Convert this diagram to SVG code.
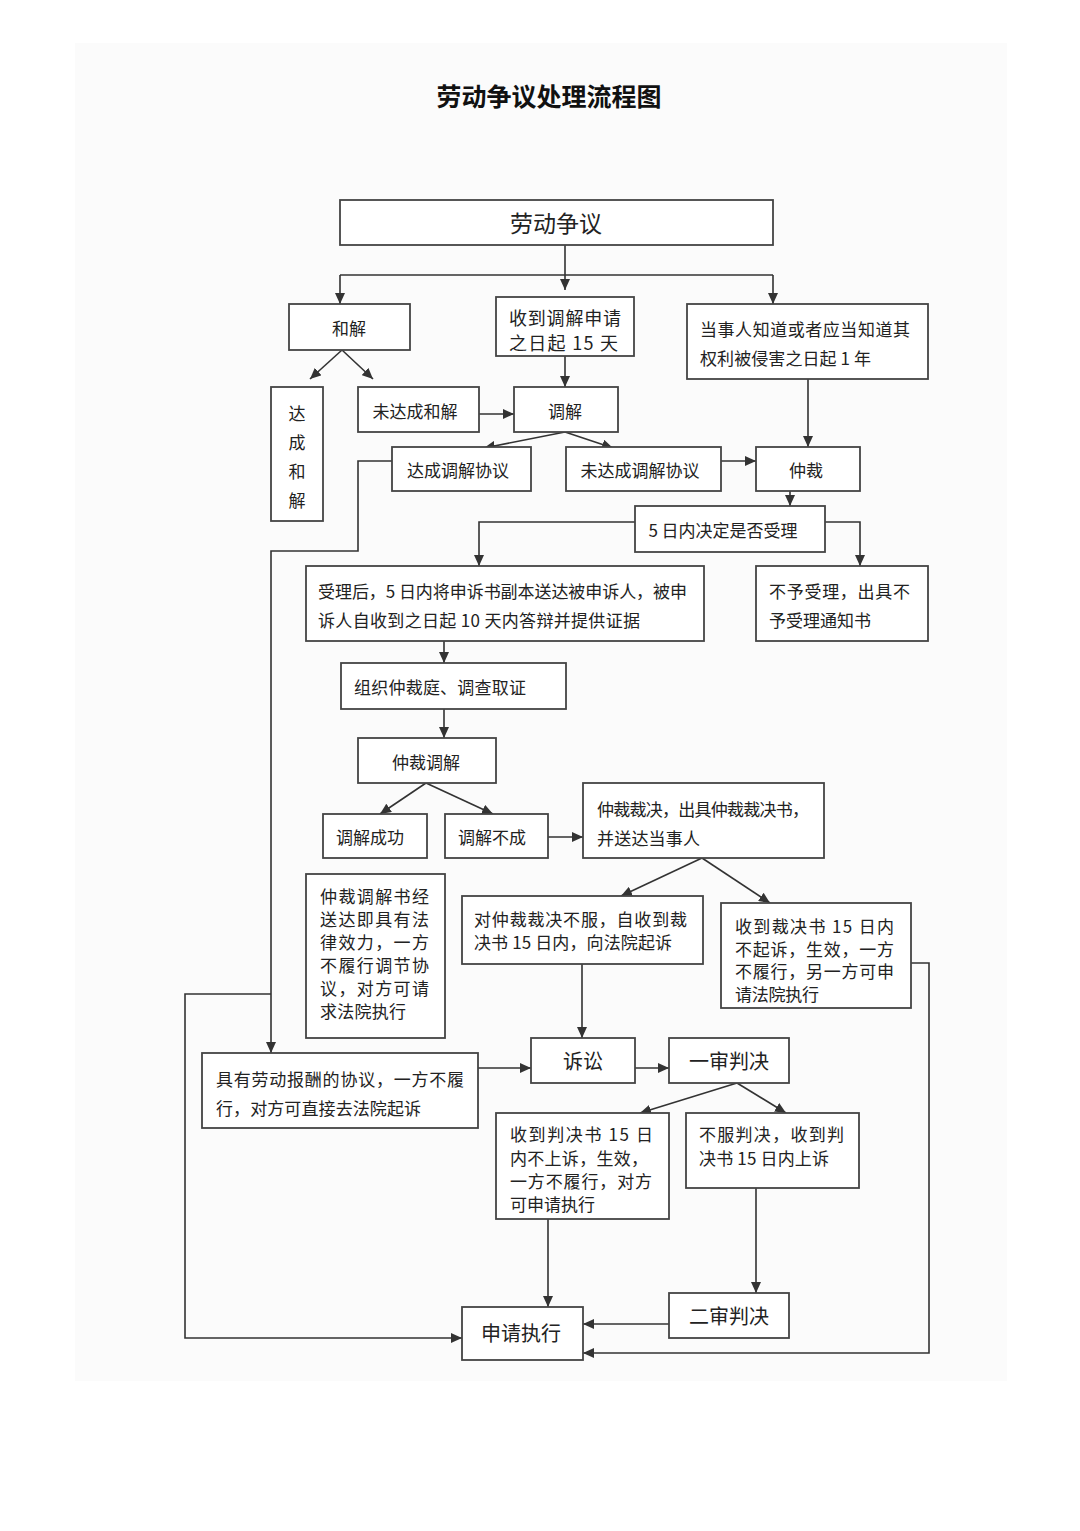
<svg xmlns="http://www.w3.org/2000/svg" width="1080" height="1531" viewBox="0 0 1080 1531">
<defs>
<marker id="ah" markerUnits="userSpaceOnUse" markerWidth="12" markerHeight="10" refX="11" refY="5" orient="auto">
<path d="M0,0 L11,5 L0,10 z" fill="#333"/>
</marker>
<style>
.b{fill:#fff;stroke:#444;stroke-width:1.8}
.t{font-family:"Noto Sans CJK SC","Liberation Sans",sans-serif;font-size:17px;fill:#222;dominant-baseline:central}
.c{text-anchor:middle}
.L{font-size:20px}
.c2{fill:none;stroke:#333;stroke-width:1.6}
.a{marker-end:url(#ah)}
</style>
</defs>
<rect x="0" y="0" width="1080" height="1531" fill="#fff"/>
<rect x="75" y="43" width="932" height="1338" fill="#fbfbfb"/>
<text x="549" y="95" class="t c" style="font-size:25px;font-weight:700;fill:#111">劳动争议处理流程图</text>

<g id="connectors" class="c2">
<path class="a" d="M565,245 V290"/>
<path d="M340,275 H773"/>
<path class="a" d="M340,275 V304"/>
<path class="a" d="M773,275 V304"/>
<path class="a" d="M342,350 L310,379"/>
<path class="a" d="M342,350 L373,379"/>
<path class="a" d="M565,356 V387"/>
<path class="a" d="M479,414 H514"/>
<path class="a" d="M565,432 L484,448"/>
<path class="a" d="M565,432 L613,448"/>
<path class="a" d="M721,461 H756"/>
<path class="a" d="M808,379 V447"/>
<path class="a" d="M790,491 V506"/>
<path class="a" d="M635,522 H479 V566"/>
<path class="a" d="M825,522 H860 V566"/>
<path class="a" d="M444,641 V663"/>
<path class="a" d="M444,709 V738"/>
<path class="a" d="M426,783 L380,814"/>
<path class="a" d="M426,783 L493,814"/>
<path class="a" d="M548,837 H583"/>
<path class="a" d="M702,858 L621,896"/>
<path class="a" d="M702,858 L770,903"/>
<path class="a" d="M582,964 V1038"/>
<path class="a" d="M392,461 H358 V551 H271 V1053"/>
<path class="a" d="M271,994 H185 V1338 H462"/>
<path class="a" d="M478,1068 H531"/>
<path class="a" d="M635,1068 H669"/>
<path class="a" d="M737,1083 L640,1113"/>
<path class="a" d="M737,1083 L786,1113"/>
<path class="a" d="M548,1219 V1307"/>
<path class="a" d="M756,1188 V1293"/>
<path class="a" d="M669,1324 H583"/>
<path class="a" d="M911,963 H929 V1353 H583"/>
</g>

<g id="n-dispute"><rect class="b" x="340" y="200" width="433" height="45"/><text class="t c" x="556" y="222" style="font-size:23px">劳动争议</text></g>
<g id="n-hejie"><rect class="b" x="289" y="304" width="121" height="46"/><text class="t c" x="349" y="327">和解</text></g>
<g id="n-shoudao"><rect class="b" x="496" y="297" width="138" height="59"/>
<text class="t" x="509" y="317" style="font-size:18px" textLength="112" lengthAdjust="spacing">收到调解申请</text>
<text class="t" x="509" y="342" style="font-size:18px" textLength="109" lengthAdjust="spacing">之日起 15 天</text></g>
<g id="n-dangshi"><rect class="b" x="687" y="304" width="241" height="75"/>
<text class="t" x="700" y="328" textLength="210" lengthAdjust="spacing">当事人知道或者应当知道其</text>
<text class="t" x="700" y="357" textLength="171" lengthAdjust="spacing">权利被侵害之日起 1 年</text></g>
<g id="n-dacheng"><rect class="b" x="271" y="387" width="52" height="134"/>
<text class="t c" x="297" y="412">达</text><text class="t c" x="297" y="441">成</text><text class="t c" x="297" y="470">和</text><text class="t c" x="297" y="499">解</text></g>
<g id="n-weidacheng"><rect class="b" x="358" y="387" width="121" height="45"/><text class="t c" x="415" y="410">未达成和解</text></g>
<g id="n-tiaojie"><rect class="b" x="514" y="387" width="104" height="45"/><text class="t c" x="565" y="410">调解</text></g>
<g id="n-dctjxy"><rect class="b" x="392" y="447" width="139" height="44"/><text class="t c" x="458" y="469">达成调解协议</text></g>
<g id="n-wdctjxy"><rect class="b" x="566" y="447" width="155" height="44"/><text class="t c" x="640" y="469">未达成调解协议</text></g>
<g id="n-zhongcai"><rect class="b" x="756" y="447" width="104" height="44"/><text class="t c" x="806" y="469">仲裁</text></g>
<g id="n-5ri"><rect class="b" x="635" y="506" width="190" height="46"/><text class="t c" x="723" y="529">5 日内决定是否受理</text></g>
<g id="n-shouli"><rect class="b" x="306" y="566" width="398" height="75"/>
<text class="t" x="318" y="590" textLength="369" lengthAdjust="spacing">受理后，5 日内将申诉书副本送达被申诉人，被申</text>
<text class="t" x="318" y="619" textLength="322" lengthAdjust="spacing">诉人自收到之日起 10 天内答辩并提供证据</text></g>
<g id="n-buyu"><rect class="b" x="756" y="566" width="172" height="75"/>
<text class="t" x="769" y="590" textLength="141" lengthAdjust="spacing">不予受理，出具不</text>
<text class="t" x="769" y="619" textLength="102" lengthAdjust="spacing">予受理通知书</text></g>
<g id="n-zuzhi"><rect class="b" x="341" y="663" width="225" height="46"/><text class="t" x="354" y="686" textLength="172" lengthAdjust="spacing">组织仲裁庭、调查取证</text></g>
<g id="n-zctj"><rect class="b" x="358" y="738" width="138" height="45"/><text class="t c" x="426" y="761">仲裁调解</text></g>
<g id="n-tjcg"><rect class="b" x="323" y="814" width="104" height="44"/><text class="t c" x="370" y="836">调解成功</text></g>
<g id="n-tjbc"><rect class="b" x="445" y="814" width="103" height="44"/><text class="t c" x="492" y="836">调解不成</text></g>
<g id="n-zccj"><rect class="b" x="583" y="783" width="241" height="75"/>
<text class="t" x="597" y="808" textLength="212" lengthAdjust="spacing">仲裁裁决，出具仲裁裁决书，</text>
<text class="t" x="597" y="837" textLength="103" lengthAdjust="spacing">并送达当事人</text></g>
<g id="n-zctjs"><rect class="b" x="306" y="874" width="139" height="164"/>
<text class="t" x="320" y="895" textLength="109" lengthAdjust="spacing">仲裁调解书经</text>
<text class="t" x="320" y="918" textLength="109" lengthAdjust="spacing">送达即具有法</text>
<text class="t" x="320" y="941" textLength="109" lengthAdjust="spacing">律效力，一方</text>
<text class="t" x="320" y="964" textLength="109" lengthAdjust="spacing">不履行调节协</text>
<text class="t" x="320" y="987" textLength="109" lengthAdjust="spacing">议，对方可请</text>
<text class="t" x="320" y="1010" textLength="86" lengthAdjust="spacing">求法院执行</text></g>
<g id="n-dzccj"><rect class="b" x="462" y="896" width="241" height="68"/>
<text class="t" x="474" y="918" textLength="213" lengthAdjust="spacing">对仲裁裁决不服，自收到裁</text>
<text class="t" x="474" y="941" textLength="198" lengthAdjust="spacing">决书 15 日内，向法院起诉</text></g>
<g id="n-sdcjs"><rect class="b" x="721" y="903" width="190" height="105"/>
<text class="t" x="735" y="925" textLength="159" lengthAdjust="spacing">收到裁决书 15 日内</text>
<text class="t" x="735" y="948" textLength="159" lengthAdjust="spacing">不起诉，生效，一方</text>
<text class="t" x="735" y="970" textLength="159" lengthAdjust="spacing">不履行，另一方可申</text>
<text class="t" x="735" y="993" textLength="84" lengthAdjust="spacing">请法院执行</text></g>
<g id="n-jyld"><rect class="b" x="202" y="1053" width="276" height="75"/>
<text class="t" x="216" y="1078" textLength="248" lengthAdjust="spacing">具有劳动报酬的协议，一方不履</text>
<text class="t" x="216" y="1107" textLength="205" lengthAdjust="spacing">行，对方可直接去法院起诉</text></g>
<g id="n-susong"><rect class="b" x="531" y="1038" width="104" height="45"/><text class="t c L" x="583" y="1060">诉讼</text></g>
<g id="n-yishen"><rect class="b" x="669" y="1038" width="120" height="45"/><text class="t c L" x="729" y="1060">一审判决</text></g>
<g id="n-sdpjs"><rect class="b" x="496" y="1113" width="173" height="106"/>
<text class="t" x="510" y="1133" textLength="143" lengthAdjust="spacing">收到判决书 15 日</text>
<text class="t" x="510" y="1157" textLength="138" lengthAdjust="spacing">内不上诉，生效，</text>
<text class="t" x="510" y="1180" textLength="142" lengthAdjust="spacing">一方不履行，对方</text>
<text class="t" x="510" y="1203" textLength="85" lengthAdjust="spacing">可申请执行</text></g>
<g id="n-bfpj"><rect class="b" x="686" y="1113" width="173" height="75"/>
<text class="t" x="699" y="1133" textLength="145" lengthAdjust="spacing">不服判决，收到判</text>
<text class="t" x="699" y="1157" textLength="130" lengthAdjust="spacing">决书 15 日内上诉</text></g>
<g id="n-sqzx"><rect class="b" x="462" y="1307" width="121" height="53"/><text class="t c L" x="521" y="1332">申请执行</text></g>
<g id="n-ershen"><rect class="b" x="669" y="1293" width="120" height="45"/><text class="t c L" x="729" y="1315">二审判决</text></g>
</svg>
